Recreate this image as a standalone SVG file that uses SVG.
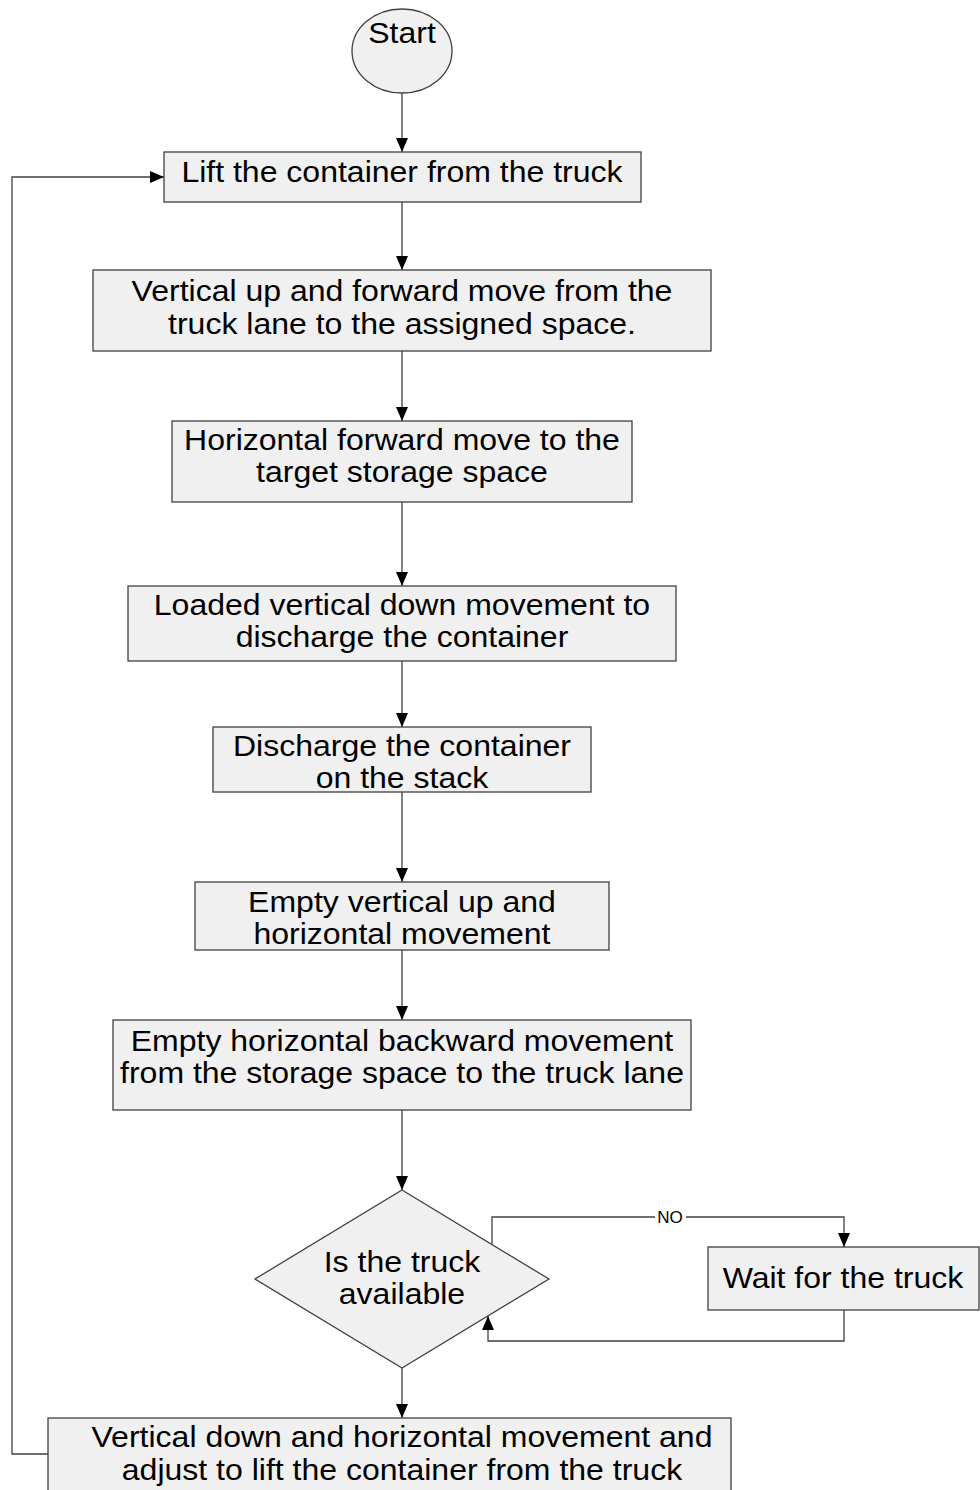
<svg xmlns="http://www.w3.org/2000/svg" width="980" height="1490" viewBox="0 0 980 1490">
  <style>
    .box { fill: #f0f0f0; stroke: #404040; stroke-width: 1.3; }
    .lbl { font-family: "Liberation Sans", Arial, sans-serif; font-size: 30px; fill: #000; text-anchor: middle;
           transform-box: fill-box; transform-origin: center; transform: scaleX(1.067); }
    .edge { fill: none; stroke: #404040; stroke-width: 1.3; }
    .tag { font-family: "Liberation Sans", Arial, sans-serif; font-size: 16px; fill: #000; text-anchor: middle;
           transform-box: fill-box; transform-origin: center; transform: scaleX(1.067); }
  </style>
  <defs>
    <marker id="arrow" viewBox="0 0 14 12" refX="14" refY="6" markerWidth="14" markerHeight="12" markerUnits="userSpaceOnUse" orient="auto">
      <path d="M0,0 L14,6 L0,12 Z" fill="#000"/>
    </marker>
  </defs>
  <rect width="980" height="1490" fill="#fff"/>

  <g id="connectors">
    <line class="edge" x1="402" y1="93" x2="402" y2="152" marker-end="url(#arrow)"/>
    <line class="edge" x1="402" y1="202" x2="402" y2="270" marker-end="url(#arrow)"/>
    <line class="edge" x1="402" y1="351" x2="402" y2="421" marker-end="url(#arrow)"/>
    <line class="edge" x1="402" y1="502" x2="402" y2="586" marker-end="url(#arrow)"/>
    <line class="edge" x1="402" y1="661" x2="402" y2="727" marker-end="url(#arrow)"/>
    <line class="edge" x1="402" y1="792" x2="402" y2="882" marker-end="url(#arrow)"/>
    <line class="edge" x1="402" y1="950" x2="402" y2="1020" marker-end="url(#arrow)"/>
    <line class="edge" x1="402" y1="1110" x2="402" y2="1190" marker-end="url(#arrow)"/>
    <line class="edge" x1="402" y1="1368" x2="402" y2="1418" marker-end="url(#arrow)"/>
    <!-- NO branch -->
    <polyline class="edge" points="492,1244 492,1217 844,1217 844,1247" marker-end="url(#arrow)"/>
    <rect x="655" y="1208" width="31" height="18" fill="#fff"/>
    <text class="tag" x="670" y="1223">NO</text>
    <!-- return from wait -->
    <polyline class="edge" points="844,1310 844,1341 488,1341 488,1316" marker-end="url(#arrow)"/>
    <!-- loop back to the first step -->
    <polyline class="edge" points="48,1454 12,1454 12,177 164,177" marker-end="url(#arrow)"/>
  </g>

  <g id="start">
    <ellipse class="box" cx="402" cy="51" rx="50" ry="42"/>
    <text class="lbl" x="402" y="43">Start</text>
  </g>
  <g id="lift">
    <rect class="box" x="164" y="152" width="477" height="50"/>
    <text class="lbl" x="402" y="182">Lift the container from the truck</text>
  </g>
  <g id="vertical-up">
    <rect class="box" x="93" y="270" width="618" height="81"/>
    <text class="lbl" x="402" y="301">Vertical up and forward move from the</text>
    <text class="lbl" x="402" y="334">truck lane to the assigned space.</text>
  </g>
  <g id="horizontal-forward">
    <rect class="box" x="172" y="421" width="460" height="81"/>
    <text class="lbl" x="402" y="450">Horizontal forward move to the</text>
    <text class="lbl" x="402" y="482">target storage space</text>
  </g>
  <g id="loaded-down">
    <rect class="box" x="128" y="586" width="548" height="75"/>
    <text class="lbl" x="402" y="615">Loaded vertical down movement to</text>
    <text class="lbl" x="402" y="647">discharge the container</text>
  </g>
  <g id="discharge">
    <rect class="box" x="213" y="727" width="378" height="65"/>
    <text class="lbl" x="402" y="756">Discharge the container</text>
    <text class="lbl" x="402" y="788">on the stack</text>
  </g>
  <g id="empty-up">
    <rect class="box" x="195" y="882" width="414" height="68"/>
    <text class="lbl" x="402" y="912">Empty vertical up and</text>
    <text class="lbl" x="402" y="944">horizontal movement</text>
  </g>
  <g id="empty-back">
    <rect class="box" x="113" y="1020" width="578" height="90"/>
    <text class="lbl" x="402" y="1051">Empty horizontal backward movement</text>
    <text class="lbl" x="402" y="1083">from the storage space to the truck lane</text>
  </g>
  <g id="truck-check">
    <polygon class="box" points="402,1190 549,1279 402,1368 255,1279"/>
    <text class="lbl" x="402" y="1272">Is the truck</text>
    <text class="lbl" x="402" y="1304">available</text>
  </g>
  <g id="wait">
    <rect class="box" x="708" y="1247" width="271" height="63"/>
    <text class="lbl" x="843" y="1288">Wait for the truck</text>
  </g>
  <g id="adjust">
    <rect class="box" x="48" y="1418" width="683" height="80"/>
    <text class="lbl" x="402" y="1447">Vertical down and horizontal movement and</text>
    <text class="lbl" x="402" y="1480">adjust to lift the container from the truck</text>
  </g>
</svg>
